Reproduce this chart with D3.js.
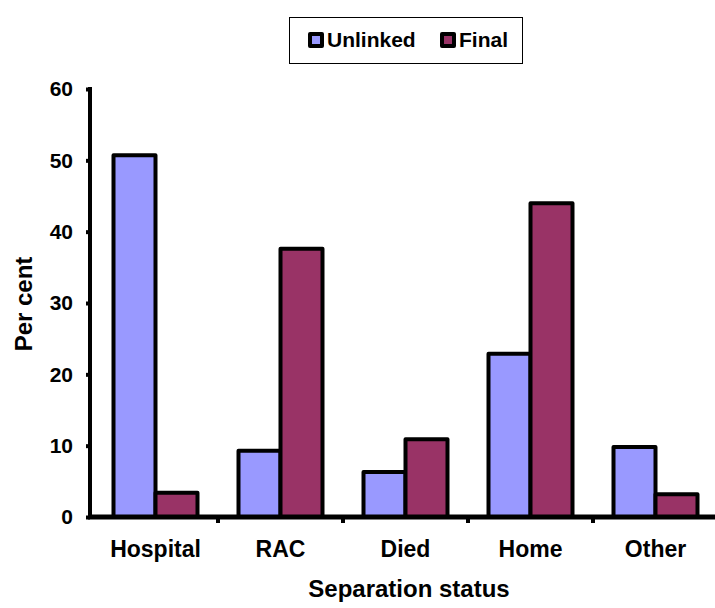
<!DOCTYPE html>
<html>
<head>
<meta charset="utf-8">
<script src="https://cdn.jsdelivr.net/npm/d3@7"></script>
<style>
  body { margin: 0; background: #fff; }
  text { font-family: "Liberation Sans", Arial, sans-serif; font-weight: bold; }
</style>
</head>
<body>
<div id="chart"></div>
<script>
const categories = ["Hospital", "RAC", "Died", "Home", "Other"]
const seriesNames = ["Unlinked", "Final"]
const unlinked = [50.7, 9.3, 6.3, 22.9, 9.8]
const finalVals = [3.4, 37.6, 10.9, 44.0, 3.2]
const yTicks = [0, 10, 20, 30, 40, 50, 60]
const colors = ["#9999ff", "#993366"]

const width = 715
const height = 608

const data = categories.map((c, i) => ({ cat: c, values: [unlinked[i], finalVals[i]] }))

const svg = d3.select("#chart")
  .append("svg")
  .attr("width", width)
  .attr("height", height)

const x = d3.scaleBand()
  .domain(categories)
  .range([93, 718])

const xInner = d3.scaleBand()
  .domain(seriesNames)
  .range([0, 84])

const y = d3.scaleLinear()
  .domain([0, 60])
  .range([517, 89])

// bars
svg.selectAll("g.group")
  .data(data)
  .join("g")
  .attr("class", "group")
  .attr("transform", d => `translate(${x(d.cat) + x.bandwidth() / 2 - 42},0)`)
  .selectAll("rect")
  .data(d => d.values.map((v, i) => ({ name: seriesNames[i], v, i })))
  .join("rect")
  .attr("x", d => xInner(d.name))
  .attr("width", xInner.bandwidth())
  .attr("y", d => y(d.v))
  .attr("height", d => y(0) - y(d.v))
  .attr("fill", d => colors[d.i])
  .attr("stroke", "#000")
  .attr("stroke-width", 4)
  .attr("stroke-linejoin", "round")

// y axis
const yAxis = svg.append("g")
  .attr("transform", "translate(90,0)")
  .call(d3.axisLeft(y).tickValues(yTicks).tickSize(4).tickPadding(13))
yAxis.select(".domain").attr("stroke", "#000").attr("stroke-width", 4)
  .attr("d", `M0,${y(60) - 2}V${y(0) + 2}`)
yAxis.selectAll(".tick line").attr("stroke-width", 4)
yAxis.selectAll(".tick text").attr("font-size", 21).attr("fill", "#000")

// x axis
const xAxis = svg.append("g")
  .attr("transform", `translate(0,${y(0)})`)
  .call(d3.axisBottom(x).tickSize(0))
xAxis.select(".domain").attr("stroke", "#000").attr("stroke-width", 5)
  .attr("d", `M88,0H715`)
xAxis.selectAll(".tick text")
  .attr("y", 40).attr("dy", 0)
  .attr("font-size", 23).attr("fill", "#000")

// category separators
xAxis.selectAll("line.sep")
  .data(categories)
  .join("line")
  .attr("class", "sep")
  .attr("x1", d => x(d) + x.bandwidth())
  .attr("x2", d => x(d) + x.bandwidth())
  .attr("y1", 0)
  .attr("y2", 6)
  .attr("stroke", "#000")
  .attr("stroke-width", 4)

// axis titles
svg.append("text")
  .attr("x", 409)
  .attr("y", 597)
  .attr("text-anchor", "middle")
  .attr("font-size", 24)
  .text("Separation status")

svg.append("text")
  .attr("transform", "translate(32,304) rotate(-90)")
  .attr("text-anchor", "middle")
  .attr("font-size", 24)
  .text("Per cent")

// legend
const legend = svg.append("g")
legend.append("rect")
  .attr("x", 289.5).attr("y", 17.5)
  .attr("width", 233).attr("height", 46)
  .attr("fill", "#fff").attr("stroke", "#000").attr("stroke-width", 1)

const legX = [310, 442]
const items = legend.selectAll("g.item")
  .data(seriesNames)
  .join("g")
  .attr("class", "item")
  .attr("transform", (d, i) => `translate(${legX[i]},40)`)
items.append("rect")
  .attr("x", 0).attr("y", -6)
  .attr("width", 12).attr("height", 12)
  .attr("fill", (d, i) => colors[i])
  .attr("stroke", "#000").attr("stroke-width", 4)
  .attr("stroke-linejoin", "round")
items.append("text")
  .attr("x", 17).attr("y", 47 - 40)
  .attr("font-size", 21)
  .text(d => d)
</script>
</body>
</html>
